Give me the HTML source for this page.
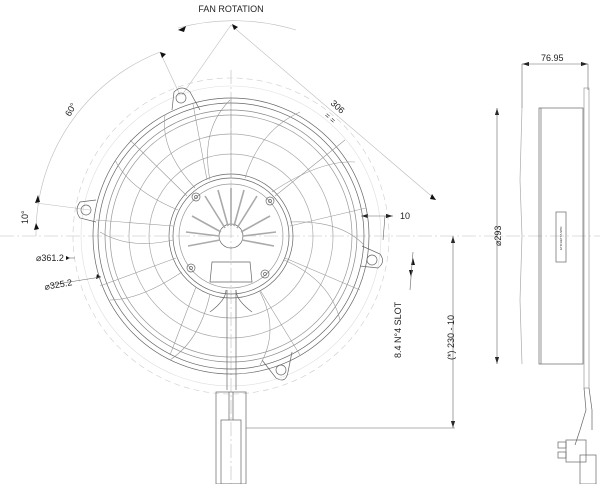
<!DOCTYPE html>
<html><head><meta charset="utf-8"><style>
html,body{margin:0;padding:0;background:#fff;width:600px;height:484px;overflow:hidden}
svg{display:block}
text{font-family:"Liberation Sans",sans-serif;fill:#222}
</style></head><body>
<svg width="600" height="484" viewBox="0 0 600 484" xmlns="http://www.w3.org/2000/svg">
<g fill="none" stroke="#bbb" stroke-width="0.6">
<line x1="0" y1="236" x2="600" y2="236" stroke-dasharray="14 3 2 3"/>
<line x1="231" y1="70" x2="231" y2="484" stroke-dasharray="14 3 2 3"/>
<path d="M36 236 A195 195 0 0 1 160 52"/>
<path d="M178 28 A215 215 0 0 1 296 30"/>
<line x1="231" y1="25" x2="436" y2="200"/>
<line x1="231" y1="25" x2="182" y2="95"/>
<line x1="160" y1="52" x2="180" y2="95"/>
<line x1="36" y1="203" x2="90" y2="210"/>
<circle cx="231" cy="236" r="158" stroke-dasharray="6 4" stroke="#ccc"/>
<circle cx="231" cy="236" r="150" stroke="#ddd"/>
</g>
<g fill="#111">
<polygon points="178,30 186,26 184,32"/>
<polygon points="238,27 232,24 234,30"/>
<polygon points="160,52 166,54 162,58"/>
<polygon points="38,195 35,203 40,202"/>
<polygon points="34,230 36,223 39,229"/>
<polygon points="436,200 432,194 430,199"/>
<polygon points="70,258 66,256 66,260"/>
<polygon points="101,277 96,279 97,274"/>
<polygon points="361,216 368,214 368,218"/>
<polygon points="393,216 386,214 386,218"/>
<polygon points="453,236 451,243 455,243"/>
<polygon points="453,428 451,421 455,421"/>
<polygon points="497,108 495,115 499,115"/>
<polygon points="497,364 495,357 499,357"/>
<polygon points="522,64 529,62 529,66"/>
<polygon points="588,64 581,62 581,66"/>
<polygon points="413,258 411,265 415,265"/>
<polygon points="411,277 409,270 413,270"/>
</g>
<g fill="none" stroke="#666" stroke-width="0.6">
<line x1="68" y1="258" x2="75" y2="258"/>
<line x1="50" y1="285" x2="101" y2="277"/>
<line x1="361" y1="216" x2="393" y2="216"/>
<line x1="385" y1="216" x2="383" y2="240"/>
<line x1="453" y1="236" x2="453" y2="428"/>
<line x1="246" y1="428" x2="455" y2="428"/>
<line x1="413" y1="252" x2="410" y2="290"/>
<line x1="497" y1="108" x2="497" y2="364"/>
<line x1="522" y1="64" x2="588" y2="64"/>
<line x1="522" y1="64" x2="522" y2="108"/>
<line x1="588" y1="64" x2="588" y2="90"/>
</g>
<g fill="none" stroke="#666" stroke-width="0.7">
<circle cx="231" cy="236" r="138"/>
<circle cx="231" cy="236" r="133"/>
<circle cx="231" cy="236" r="126" stroke="#888"/>
<circle cx="231" cy="236" r="121" stroke="#999"/>
<circle cx="231" cy="236" r="102" stroke="#aaa"/>
<circle cx="231" cy="236" r="82" stroke="#aaa"/>
<circle cx="231" cy="236" r="62"/>
<circle cx="231" cy="236" r="58"/>
<circle cx="231" cy="236" r="52" stroke="#999"/>
<circle cx="231" cy="236" r="12"/>
<path d="M172 110 L174 92 Q182 84 190 92 L200 110"/>
<circle cx="181" cy="98" r="5"/>
<path d="M96 200 L80 202 Q74 210 80 218 L96 222"/>
<circle cx="86" cy="210" r="5"/>
<path d="M362 246 L380 254 Q386 262 378 268 L360 266"/>
<circle cx="372" cy="260" r="5"/>
<path d="M262 360 L276 378 Q286 384 288 372 L292 352"/>
<circle cx="281" cy="370" r="5"/>
<circle cx="196" cy="197" r="4"/><circle cx="196" cy="197" r="1.5"/>
<circle cx="270" cy="201" r="4"/><circle cx="270" cy="201" r="1.5"/>
<circle cx="191" cy="268" r="4"/><circle cx="191" cy="268" r="1.5"/>
<circle cx="265" cy="274" r="4"/><circle cx="265" cy="274" r="1.5"/>
<path d="M212 262 L250 262 L252 282 L210 282 Z"/>
<path d="M226 290 Q226 300 210 312"/>
<path d="M236 290 Q236 300 252 312"/>
<line x1="227" y1="290" x2="227" y2="390"/>
<line x1="236" y1="290" x2="236" y2="390"/>
<rect x="216" y="392" width="30" height="92"/>
<rect x="221" y="420" width="20" height="64"/>
<line x1="229" y1="392" x2="229" y2="420"/>
<line x1="233" y1="392" x2="233" y2="420"/>
</g>
<g fill="none" stroke="#999" stroke-width="0.6">
<line x1="231" y1="178" x2="231" y2="98"/>
<line x1="275" y1="196" x2="345" y2="140"/>
<line x1="290" y1="226" x2="366" y2="208"/>
<line x1="285" y1="258" x2="360" y2="290"/>
<line x1="260" y1="290" x2="300" y2="355"/>
<line x1="196" y1="287" x2="170" y2="355"/>
<line x1="176" y1="258" x2="100" y2="286"/>
<line x1="173" y1="226" x2="96" y2="220"/>
<line x1="187" y1="196" x2="130" y2="140"/>
<line x1="207" y1="180" x2="193" y2="104"/>
<path d="M210 180 Q200 130 230 100"/>
<path d="M245 178 Q260 130 300 112"/>
<path d="M272 192 Q320 160 355 162"/>
<path d="M290 222 Q340 220 364 245"/>
<path d="M284 260 Q330 280 340 320"/>
<path d="M260 292 Q280 330 260 365"/>
<path d="M210 294 Q200 340 170 360"/>
<path d="M182 272 Q140 300 110 300"/>
<path d="M173 240 Q130 250 100 232"/>
<path d="M178 210 Q130 190 115 160"/>
<path d="M195 188 Q160 150 165 115"/>
</g>
<g stroke="#aaa" stroke-width="1.6">
<line x1="231" y1="226" x2="231" y2="188"/>
<line x1="228" y1="226" x2="218" y2="190"/>
<line x1="234" y1="226" x2="244" y2="190"/>
<line x1="225" y1="228" x2="205" y2="196"/>
<line x1="237" y1="228" x2="257" y2="196"/>
<line x1="221" y1="232" x2="192" y2="216"/>
<line x1="241" y1="232" x2="270" y2="216"/>
<line x1="219" y1="236" x2="186" y2="232"/>
<line x1="243" y1="236" x2="276" y2="232"/>
<line x1="220" y1="240" x2="188" y2="246"/>
<line x1="242" y1="240" x2="274" y2="246"/>
</g>
<g fill="none" stroke="#666" stroke-width="0.7">
<rect x="539" y="108" width="44" height="256"/>
<line x1="541" y1="108" x2="541" y2="364"/>
<rect x="584" y="88" width="5" height="300" stroke="#999"/>
<path d="M522 108 L520 180 L522 236 L520 300 L522 364" stroke="#aaa"/>
<rect x="556" y="212" width="10" height="50"/>
<path d="M584 388 L586 410 L580 430 L575 445"/>
<path d="M589 388 L592 410 L592 430"/>
<rect x="566" y="440" width="20" height="22"/>
<rect x="580" y="455" width="16" height="29"/>
<rect x="558" y="442" width="8" height="6"/><rect x="558" y="452" width="8" height="6"/>
</g>
<text x="231" y="12" font-size="9" text-anchor="middle">FAN ROTATION</text>
<text font-size="9" transform="translate(70,117) rotate(-60)">60°</text>
<text font-size="9" transform="translate(28,224) rotate(-90)">10°</text>
<text font-size="9" transform="translate(330,104) rotate(42)">306</text>
<text font-size="8" transform="translate(324,116) rotate(42)">= =</text>
<text font-size="9" x="36" y="261">⌀361.2</text>
<text font-size="9" transform="translate(45,290) rotate(-10)">⌀325.2</text>
<text font-size="9" x="400" y="219">10</text>
<text font-size="9" transform="translate(401,358) rotate(-90)">8.4 N°4 SLOT</text>
<text font-size="9" transform="translate(454,360) rotate(-90)">(*) 230 - 10</text>
<text font-size="9" x="541" y="61">76.95</text>
<text font-size="9" transform="translate(501,246) rotate(-90)">⌀293</text>
<text font-size="3" transform="translate(562,250) rotate(-90)">ETICHETTA SPO</text>
</svg>
</body></html>
